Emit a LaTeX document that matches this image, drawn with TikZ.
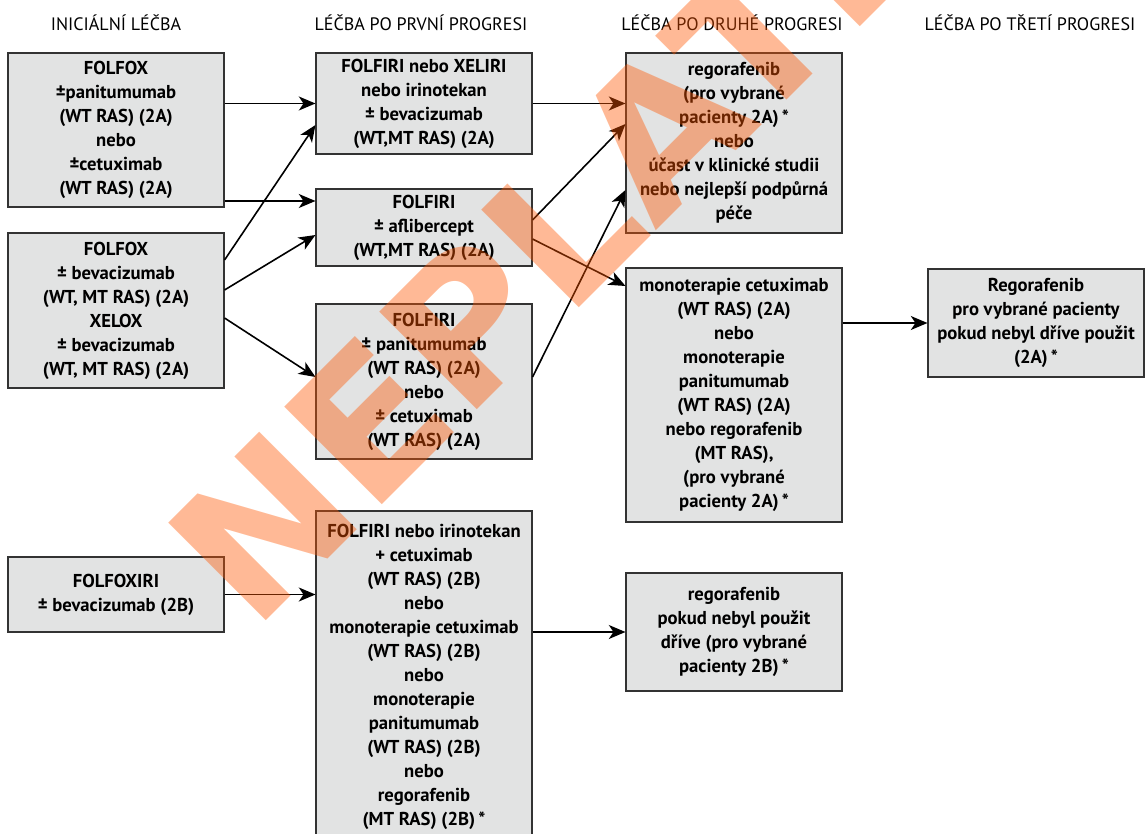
\documentclass[tikz,border=0pt]{standalone}
\usepackage{fontspec}
\setmainfont{PT Sans}
\newfontfamily\stampfont[FakeStretch=1.04]{DejaVu Sans}
\usetikzlibrary{arrows.meta,calc}
\definecolor{boxfill}{RGB}{226,227,227}
\definecolor{boxline}{RGB}{51,51,51}
\definecolor{stamp}{RGB}{255,86,0}

\begin{document}
\begin{tikzpicture}[x=0.75pt,y=-0.75pt,
    drug/.style={draw=boxline, line width=0.8pt, fill=boxfill, align=center,
      minimum width=162pt, inner sep=0pt,
      font=\bfseries\fontsize{14}{18}\selectfont},
    phase/.style={anchor=base, font=\fontsize{13.5}{16}\selectfont},
    arr/.style={-{Stealth[length=12.5pt,width=10.5pt,inset=3.5pt]}, line width=1.2pt}]
      \useasboundingbox (0,0) rectangle (1146,834);
      \clip (0,0) rectangle (1146,834);

      % column headings
      \node[phase] (h1) at (116,31) {INICIÁLNÍ LÉČBA};
      \node[phase] (h2) at (421,31) {LÉČBA PO PRVNÍ PROGRESI};
      \node[phase] (h3) at (732,31) {LÉČBA PO DRUHÉ PROGRESI};
      \node[phase] (h4) at (1030,31) {LÉČBA PO TŘETÍ PROGRESI};

      % initial treatment
      \node[drug, minimum height=115.5pt] (folfox) at (116,130) {FOLFOX\\±panitumumab\\(WT RAS) (2A)\\nebo\\±cetuximab\\(WT RAS) (2A)};
      \node[drug, minimum height=116.25pt] (folbev) at (116,310.5) {FOLFOX\\± bevacizumab\\(WT, MT RAS) (2A)\\XELOX\\± bevacizumab\\(WT, MT RAS) (2A)};
      \node[drug, minimum height=56.25pt] (foxiri) at (116,594.5) {FOLFOXIRI\\± bevacizumab (2B)};

      % after first progression
      \node[drug, minimum height=75.75pt] (fir) at (424,103.5) {FOLFIRI nebo XELIRI\\nebo irinotekan\\± bevacizumab\\(WT,MT RAS) (2A)};
      \node[drug, minimum height=57.75pt] (afl) at (424,227.5) {FOLFIRI\\± aflibercept\\(WT,MT RAS) (2A)};
      \node[drug, minimum height=116.25pt] (pani) at (424,381.5) {FOLFIRI\\± panitumumab\\(WT RAS) (2A)\\nebo\\± cetuximab\\(WT RAS) (2A)};
      \node[drug, minimum height=248.25pt] (irino) at (424,676.5) {FOLFIRI nebo irinotekan\\+ cetuximab\\(WT RAS) (2B)\\nebo\\monoterapie cetuximab\\(WT RAS) (2B)\\nebo\\monoterapie\\panitumumab\\(WT RAS) (2B)\\nebo\\regorafenib\\(MT RAS) (2B)\,*};

      % after second progression
      \node[drug, minimum height=135pt] (rego) at (734,143) {regorafenib\\(pro vybrané\\pacienty 2A)\,*\\nebo\\účast v klinické studii\\nebo nejlepší podpůrná\\péče};
      \node[drug, minimum height=190.5pt] (mono) at (734,395) {monoterapie cetuximab\\(WT RAS) (2A)\\nebo\\monoterapie\\panitumumab\\(WT RAS) (2A)\\nebo regorafenib\\(MT RAS),\\(pro vybrané\\pacienty 2A)\,*};
      \node[drug, minimum height=88.5pt] (regob) at (734,632) {regorafenib\\pokud nebyl použit\\dříve (pro vybrané\\pacienty 2B)\,*};

      % after third progression
      \node[drug, minimum height=81pt] (late) at (1036,323) {Regorafenib\\pro vybrané pacienty\\pokud nebyl dříve použit\\(2A)\,*};

      \draw[arr] (folfox.east |- fir.west) -- (fir.west);
      \draw[arr] (folfox.east |- 0,201) -- (afl.west |- 0,201);
      \draw[arr] (folbev.east |- 0,260) -- (fir.west |- 0,125);
      \draw[arr] (folbev.east |- 0,290) -- (afl.west |- 0,235);
      \draw[arr] (folbev.east |- 0,318) -- (pani.west |- 0,377);
      \draw[arr] (foxiri) -- (foxiri -| irino.west);

      \draw[arr] (fir) -- (fir -| rego.west);
      \draw[arr] (afl.east |- 0,220) -- (rego.west |- 0,124);
      \draw[arr] (afl.east |- 0,239) -- (mono.west |- 0,286);
      \draw[arr] (pani.east |- 0,377) -- (rego.west |- 0,190);
      \draw[arr] (irino.east |- regob) -- (regob.west);

      \draw[arr] (mono.east |- late) -- (late.west);

      % watermark
      \node[rotate=45, anchor=base west, text=stamp, text opacity=0.41, inner sep=0pt,
        font=\stampfont\bfseries\fontsize{142}{142}\selectfont] (mark) at (253,634) {NEPLATÍ};
\end{tikzpicture}
\end{document}
